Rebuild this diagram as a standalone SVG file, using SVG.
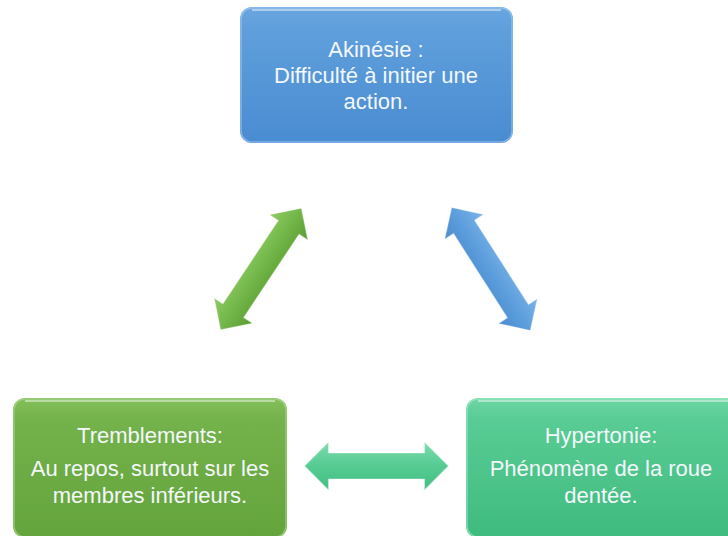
<svg xmlns="http://www.w3.org/2000/svg" width="728" height="536" viewBox="0 0 728 536">
  <defs>
    <style>
      .lbl { font-family: "Liberation Sans", Arial, sans-serif; font-size: 22px; fill: #f4f7fb; text-anchor: middle; }
      .hl { fill: none; stroke: #ffffff; stroke-opacity: 0.45; stroke-width: 2; }
      .rim { fill: none; stroke-opacity: 0.6; stroke-width: 1.5; }
      .arrow-rim { fill: none; stroke: #ffffff; stroke-opacity: 0.35; stroke-width: 1.2; stroke-linejoin: round; }
    </style>
    <linearGradient id="gBlue" x1="0" y1="0" x2="0" y2="1">
      <stop offset="0" stop-color="#6ba7e0"/>
      <stop offset="0.15" stop-color="#5f9fdc"/>
      <stop offset="1" stop-color="#4a8cd1"/>
    </linearGradient>
    <linearGradient id="gGreen" x1="0" y1="0" x2="0" y2="1">
      <stop offset="0" stop-color="#84c05a"/>
      <stop offset="0.15" stop-color="#74b24b"/>
      <stop offset="1" stop-color="#64a43c"/>
    </linearGradient>
    <linearGradient id="gTeal" x1="0" y1="0" x2="0" y2="1">
      <stop offset="0" stop-color="#6fd6a4"/>
      <stop offset="0.15" stop-color="#58cc94"/>
      <stop offset="1" stop-color="#3fbb7f"/>
    </linearGradient>
    <linearGradient id="aGreen" x1="0" y1="0" x2="0" y2="1">
      <stop offset="0" stop-color="#8fcb63"/>
      <stop offset="0.5" stop-color="#72b649"/>
      <stop offset="1" stop-color="#5a9e33"/>
    </linearGradient>
    <linearGradient id="aBlue" x1="0" y1="0" x2="0" y2="1">
      <stop offset="0" stop-color="#7ab4ea"/>
      <stop offset="0.5" stop-color="#5d9edc"/>
      <stop offset="1" stop-color="#4a8bd0"/>
    </linearGradient>
    <linearGradient id="aTeal" x1="0" y1="0" x2="0" y2="1">
      <stop offset="0" stop-color="#7ddcae"/>
      <stop offset="0.5" stop-color="#55cb92"/>
      <stop offset="1" stop-color="#42be82"/>
    </linearGradient>
    <!-- double-headed arrows, centred on the origin, pointing along x -->
    <polygon id="dbl" points="-73,0 -50,-23 -50,-12.5 50,-12.5 50,-23 73,0 50,23 50,12.5 -50,12.5 -50,23"/>
    <polygon id="dblH" points="-72,0 -48,-24 -48,-13 48,-13 48,-24 72,0 48,24 48,13 -48,13 -48,24"/>
  </defs>

  <!-- connectors -->
  <g id="connectors">
    <g transform="translate(261,269) rotate(-56.4)">
      <use href="#dbl" fill="url(#aGreen)"/>
      <use href="#dbl" class="arrow-rim"/>
    </g>
    <g transform="translate(491,269) rotate(57.4)">
      <use href="#dbl" fill="url(#aBlue)"/>
      <use href="#dbl" class="arrow-rim"/>
    </g>
    <g transform="translate(376.5,466)">
      <use href="#dblH" fill="url(#aTeal)"/>
      <use href="#dblH" class="arrow-rim"/>
    </g>
  </g>

  <!-- top node -->
  <g id="akinesie">
    <rect x="240" y="7" width="273" height="136" rx="12" fill="url(#gBlue)"/>
    <rect x="241" y="8" width="271" height="134" rx="11" class="rim" stroke="#a9cff2"/>
    <path d="M252,10 H501" class="hl" stroke-width="3"/>
    <text class="lbl" x="376" y="57">Akinésie :</text>
    <text class="lbl" x="376" y="83">Difficulté à initier une</text>
    <text class="lbl" x="376" y="109">action.</text>
  </g>

  <!-- bottom left node -->
  <g id="tremblements">
    <rect x="13" y="398" width="274" height="140" rx="12" fill="url(#gGreen)"/>
    <rect x="14" y="399" width="272" height="138" rx="11" class="rim" stroke="#b2dc95"/>
    <path d="M25,401 H275" class="hl" stroke-width="3"/>
    <text class="lbl" x="150" y="443">Tremblements:</text>
    <text class="lbl" x="150" y="476">Au repos, surtout sur les</text>
    <text class="lbl" x="150" y="503">membres inférieurs.</text>
  </g>

  <!-- bottom right node -->
  <g id="hypertonie">
    <rect x="466" y="398" width="272" height="140" rx="12" fill="url(#gTeal)"/>
    <rect x="467" y="399" width="270" height="138" rx="11" class="rim" stroke="#a8ecc9"/>
    <path d="M478,401 H728" class="hl" stroke-width="3"/>
    <text class="lbl" x="601" y="443">Hypertonie:</text>
    <text class="lbl" x="601" y="476">Phénomène de la roue</text>
    <text class="lbl" x="601" y="503">dentée.</text>
  </g>
</svg>
